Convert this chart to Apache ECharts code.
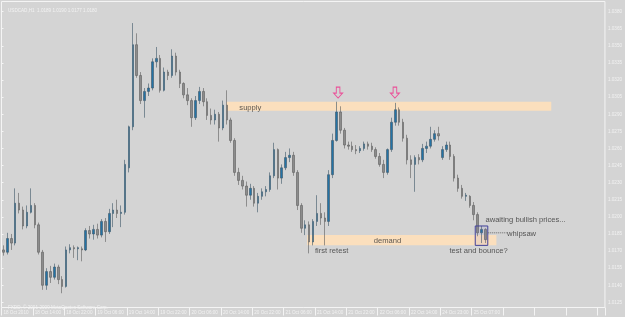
<!DOCTYPE html>
<html><head><meta charset="utf-8">
<script src="https://cdn.jsdelivr.net/npm/echarts@6/dist/echarts.min.js"></script>
<style>html,body{margin:0;padding:0;background:#d4d4d4;overflow:hidden}#c{width:625px;height:317px}</style>
</head><body><div id="c"></div>
<script>
// ---- data ----
const tickLabels = ['18 Oct 2010','18 Oct 14:00','18 Oct 22:00','19 Oct 06:00','19 Oct 14:00','19 Oct 22:00',
  '20 Oct 06:00','20 Oct 14:00','20 Oct 22:00','21 Oct 06:00','21 Oct 14:00','21 Oct 22:00',
  '22 Oct 06:00','22 Oct 14:00','24 Oct 23:00','25 Oct 07:00'];
const priceTicks = [1.0125,1.0140,1.0155,1.0170,1.0185,1.0200,1.0215,1.0230,1.0245,1.0260,1.0275,1.0290,1.0305,1.0320,1.0335,1.0350,1.0365,1.0380];
// [open, close, low, high]
const bars = [
[1.0171,1.0169,1.0166,1.0175],[1.0169,1.0181,1.0167,1.0186],[1.0181,1.0177,1.0171,1.0185],[1.0177,1.0212,1.0175,1.0225],
[1.0212,1.0206,1.0203,1.0221],[1.0206,1.0192,1.0189,1.0209],[1.0192,1.0204,1.0190,1.0210],[1.0204,1.0210,1.0203,1.0225],
[1.0210,1.0193,1.0190,1.0212],[1.0193,1.0169,1.0167,1.0195],[1.0169,1.0140,1.0136,1.0171],[1.0140,1.0152,1.0136,1.0155],
[1.0152,1.0147,1.0142,1.0157],[1.0147,1.0156,1.0145,1.0159],[1.0156,1.0145,1.0141,1.0158],[1.0145,1.0139,1.0133,1.0148],
[1.0139,1.0171,1.0138,1.0174],[1.0171,1.0173,1.0168,1.0176],[1.0173,1.0172,1.0164,1.0175],[1.0172,1.0173,1.0162,1.0174],
[1.0172,1.0171,1.0161,1.0174],[1.0171,1.0188,1.0170,1.0190],[1.0188,1.0185,1.0181,1.0192],[1.0185,1.0189,1.0180,1.0193],
[1.0189,1.0184,1.0181,1.0194],[1.0184,1.0196,1.0182,1.0198],[1.0196,1.0187,1.0178,1.0199],[1.0187,1.0203,1.0185,1.0207],
[1.0203,1.0206,1.0191,1.0212],[1.0206,1.0203,1.0199,1.0215],[1.0203,1.0204,1.0191,1.0210],[1.0204,1.0246,1.0202,1.0250],
[1.0243,1.0279,1.0239,1.0280],[1.0279,1.0351,1.0276,1.0370],[1.0351,1.0324,1.0322,1.0361],[1.0324,1.0302,1.0299,1.0327],
[1.0302,1.0310,1.0287,1.0313],[1.0310,1.0313,1.0306,1.0317],[1.0313,1.0336,1.0311,1.0339],[1.0336,1.0339,1.0331,1.0349],
[1.0339,1.0311,1.0309,1.0342],[1.0311,1.0327,1.0310,1.0331],[1.0327,1.0324,1.0320,1.0329],[1.0324,1.0341,1.0322,1.0347],
[1.0341,1.0327,1.0324,1.0344],[1.0327,1.0317,1.0313,1.0329],[1.0317,1.0307,1.0304,1.0318],[1.0307,1.0302,1.0298,1.0313],
[1.0302,1.0287,1.0279,1.0304],[1.0287,1.0302,1.0285,1.0306],[1.0302,1.0310,1.0299,1.0314],[1.0310,1.0301,1.0297,1.0313],
[1.0301,1.0289,1.0285,1.0304],[1.0289,1.0285,1.0281,1.0295],[1.0285,1.0290,1.0281,1.0294],[1.0290,1.0278,1.0266,1.0292],
[1.0278,1.0298,1.0276,1.0302],[1.0298,1.0285,1.0281,1.0311],[1.0285,1.0267,1.0265,1.0287],[1.0267,1.0239,1.0236,1.0269],
[1.0239,1.0232,1.0228,1.0243],[1.0232,1.0227,1.0224,1.0236],[1.0227,1.0219,1.0209,1.0231],[1.0219,1.0225,1.0215,1.0229],
[1.0225,1.0212,1.0209,1.0227],[1.0212,1.0218,1.0204,1.0221],[1.0218,1.0222,1.0215,1.0225],[1.0222,1.0224,1.0218,1.0227],
[1.0224,1.0236,1.0222,1.0239],[1.0236,1.0259,1.0234,1.0265],[1.0259,1.0234,1.0224,1.0260],[1.0234,1.0243,1.0229,1.0246],
[1.0243,1.0252,1.0241,1.0257],[1.0252,1.0254,1.0248,1.0260],[1.0254,1.0239,1.0236,1.0257],[1.0239,1.0210,1.0206,1.0241],
[1.0210,1.0190,1.0186,1.0212],[1.0190,1.0193,1.0184,1.0197],[1.0193,1.0178,1.0168,1.0196],[1.0178,1.0196,1.0175,1.0198],
[1.0196,1.0203,1.0192,1.0219],[1.0203,1.0199,1.0193,1.0212],[1.0199,1.0196,1.0175,1.0204],[1.0196,1.0237,1.0192,1.0241],
[1.0237,1.0267,1.0234,1.0273],[1.0267,1.0292,1.0266,1.0301],[1.0292,1.0276,1.0273,1.0297],[1.0276,1.0263,1.0260,1.0278],
[1.0263,1.0262,1.0259,1.0266],[1.0262,1.0259,1.0257,1.0266],[1.0259,1.0258,1.0255,1.0263],[1.0258,1.0260,1.0256,1.0262],
[1.0260,1.0264,1.0258,1.0266],[1.0264,1.0262,1.0259,1.0266],[1.0262,1.0259,1.0257,1.0265],[1.0259,1.0253,1.0251,1.0261],
[1.0253,1.0246,1.0244,1.0256],[1.0246,1.0239,1.0234,1.0250],[1.0239,1.0259,1.0237,1.0260],[1.0259,1.0283,1.0257,1.0287],
[1.0283,1.0294,1.0280,1.0300],[1.0294,1.0283,1.0280,1.0296],[1.0283,1.0269,1.0266,1.0286],[1.0269,1.0250,1.0246,1.0272],
[1.0250,1.0246,1.0234,1.0254],[1.0246,1.0252,1.0222,1.0254],[1.0252,1.0250,1.0246,1.0255],[1.0250,1.0260,1.0248,1.0264],
[1.0260,1.0262,1.0256,1.0266],[1.0262,1.0268,1.0260,1.0279],[1.0268,1.0273,1.0266,1.0276],[1.0273,1.0271,1.0267,1.0279],
[1.0252,1.0259,1.0250,1.0262],[1.0259,1.0263,1.0257,1.0266],[1.0263,1.0253,1.0250,1.0266],[1.0253,1.0234,1.0231,1.0255],
[1.0234,1.0225,1.0222,1.0237],[1.0225,1.0218,1.0216,1.0228],[1.0218,1.0219,1.0214,1.0221],[1.0218,1.0210,1.0208,1.0219],
[1.0210,1.0202,1.0197,1.0213],[1.0202,1.0186,1.0183,1.0204],[1.0186,1.0189,1.0177,1.0192],[1.0189,1.0180,1.0177,1.0190]
];
const slotCount = 154;                       // bar slots across the window
const categories = Array.from({length: slotCount}, (_, i) => String(i));
// zones: [barFrom, barTo, priceTop, priceBottom]
const zones = [[57.4, 140.3, 1.0301, 1.0293], [78.0, 126.3, 1.0184, 1.0175]];
const boxes = [[120.9, 124.1, 1.0192, 1.0175]];
const arrows = [[85.9, 1.0309], [100.4, 1.0309]];
const notes = [
  ['supply', 60.7, 1.0296], ['demand', 95.0, 1.0179], ['first retest', 80.0, 1.0170],
  ['test and bounce?', 114.3, 1.0170], ['awaiting bullish prices...', 123.5, 1.0197], ['whipsaw', 129.0, 1.0185]
];
const pointerLine = [[124.1, 1.0186], [128.9, 1.0186]];
const titleText = 'USDCAD,H1  1.0189 1.0190 1.0177 1.0180';
const copyText = 'FXDD, \u00a9 2001-2009 MetaQuotes Software Corp.';
const lastClose = bars[bars.length - 1][1];

// ---- chart ----
const FONT = 'Liberation Sans';
const LBL = '#f2f2f2';
const chart = echarts.init(document.getElementById('c'), null, {renderer: 'canvas'});
chart.setOption({
  backgroundColor: '#d4d4d4',
  animation: false,
  title: [
    {text: titleText, left: 3, top: 3, textStyle: {fontSize: 4.6, color: LBL, fontWeight: 'normal', fontFamily: FONT}},
    {text: copyText, left: 3, top: 300, textStyle: {fontSize: 4.6, color: LBL, fontWeight: 'normal', fontFamily: FONT}}
  ],
  grid: {left: 1.5, right: 18.5, top: 1.5, bottom: 9.5, show: true, borderColor: '#f4f4f4', borderWidth: 1, backgroundColor: 'transparent'},
  xAxis: [
    {type: 'category', data: categories, boundaryGap: true,
      axisLine: {show: false},
      axisTick: {show: true, interval: (i) => i % 8 === 0, length: 8, lineStyle: {color: '#f4f4f4', width: 1}},
      axisLabel: {interval: (i) => i % 8 === 0, formatter: (v, i) => tickLabels[Math.round(i / 8)] || '',
        align: 'left', margin: 3, fontSize: 4.6, color: LBL, fontFamily: FONT},
      splitLine: {show: false}},
    {type: 'value', min: 0, max: slotCount, show: false}
  ],
  yAxis: {type: 'value', position: 'right', min: 1.01205, max: 1.03889, scale: true,
    axisLine: {show: false},
    axisTick: {show: true, customValues: priceTicks, length: 2, lineStyle: {color: '#f4f4f4'}},
    axisLabel: {customValues: priceTicks, formatter: (v) => v.toFixed(4), margin: 3, fontSize: 4.6, color: LBL, fontFamily: FONT},
    splitLine: {show: false}},
  series: [
    {type: 'custom', xAxisIndex: 1, z: 1, silent: true, data: zones,
      renderItem: (p, api) => {
        const a = api.coord([api.value(0), api.value(2)]), b = api.coord([api.value(1), api.value(3)]);
        return {type: 'rect', shape: {x: a[0], y: a[1], width: b[0] - a[0], height: b[1] - a[1]}, style: {fill: '#fbdfbd'}};
      }},
    {type: 'candlestick', xAxisIndex: 0, z: 2, data: bars, barWidth: 2,
      itemStyle: {color: '#2473a6', color0: '#8c8c8c', borderColor: '#3d5566', borderColor0: '#5c5c5c', borderWidth: 0.6},
      markLine: {silent: true, symbol: 'none', data: [{yAxis: lastClose}], lineStyle: {opacity: 0},
        label: {position: 'end', distance: 1, formatter: (p) => p.value.toFixed(4), backgroundColor: '#ffffff',
          color: '#8a8a8a', fontSize: 4.6, fontFamily: FONT, padding: [1, 2]}}},
    {type: 'custom', xAxisIndex: 1, z: 5, silent: true, data: boxes,
      renderItem: (p, api) => {
        const a = api.coord([api.value(0), api.value(2)]), b = api.coord([api.value(1), api.value(3)]);
        return {type: 'rect', shape: {x: a[0], y: a[1], width: b[0] - a[0], height: b[1] - a[1]},
          style: {fill: 'rgba(90,90,200,0.08)', stroke: '#40409a', lineWidth: 1}};
      }},
    {type: 'scatter', xAxisIndex: 1, z: 6, silent: true, data: arrows,
      symbol: 'path://M3,0 L7,0 L7,6 L10,6 L5,11 L0,6 L3,6 Z', symbolSize: [9, 11],
      itemStyle: {color: 'rgba(0,0,0,0)', borderColor: '#f0308a', borderWidth: 1}},
    {type: 'line', xAxisIndex: 1, z: 6, silent: true, data: pointerLine, symbol: 'none',
      lineStyle: {color: '#666', width: 1, type: [1, 1]}},
    {type: 'scatter', xAxisIndex: 1, z: 7, silent: true, symbolSize: 0,
      data: notes.map(n => ({name: n[0], value: [n[1], n[2]]})),
      label: {show: true, position: 'right', distance: 0, formatter: '{b}', color: '#333', fontSize: 7.6, fontFamily: FONT}}
  ]
});
</script>
</body></html>
